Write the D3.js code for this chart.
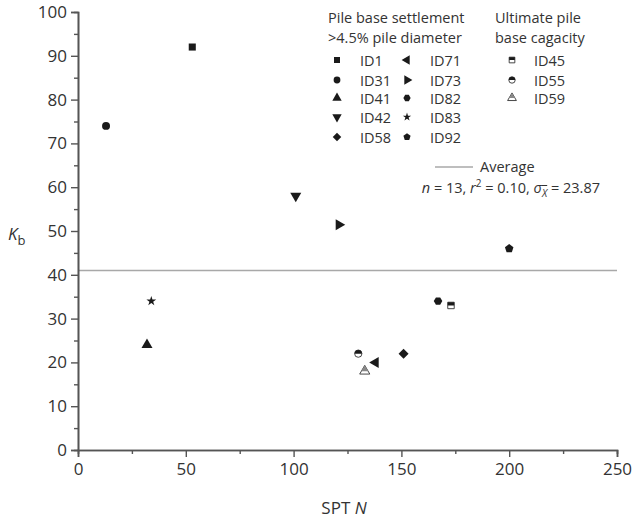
<!DOCTYPE html>
<html>
<head>
<meta charset="utf-8">
<script src="https://cdn.jsdelivr.net/npm/d3@7"></script>
<style>
  body { margin: 0; background: #fff; }
  text { font-family: "Open Sans", sans-serif; fill: #333; }
</style>
</head>
<body>
<script>
'use strict'

var w = 635;
var h = 521;

// data
var ids    = ["ID1", "ID31", "ID41", "ID42", "ID58", "ID71", "ID73", "ID82", "ID83", "ID92", "ID45", "ID55", "ID59"];
var sptN   = [53, 13, 32, 101, 151, 138, 121, 167, 34, 200, 173, 130, 133];
var kb     = [92, 74, 24, 58, 22, 20, 51.4, 34, 34, 46, 33, 22, 18];
var shapes = ["square", "circle", "up", "down", "diamond", "left", "right", "hexagon", "star", "pentagon", "square", "circle", "up"];
var half   = [false, false, false, false, false, false, false, false, false, false, true, true, true];
var average = 41;
var xTicks = [0, 50, 100, 150, 200, 250];
var yTicks = [0, 10, 20, 30, 40, 50, 60, 70, 80, 90, 100];

var margin = {left: 78, right: 18, top: 12, bottom: 71};

var x = d3.scaleLinear().domain([0, 250]).range([margin.left, w - margin.right]);
var y = d3.scaleLinear().domain([0, 100]).range([h - margin.bottom, margin.top]);

var svg = d3.select("body").append("svg")
  .attr("width", w)
  .attr("height", h);

// polygon symbol helper
function poly(n, rot) {
  return {
    draw: function(ctx, size) {
      var r = Math.sqrt(size / (n * 0.5 * Math.sin(2 * Math.PI / n)));
      for (var i = 0; i < n; i++) {
        var a = rot + i * 2 * Math.PI / n;
        var px = r * Math.sin(a), py = -r * Math.cos(a);
        if (i === 0) ctx.moveTo(px, py); else ctx.lineTo(px, py);
      }
      ctx.closePath();
    }
  };
}

var symTypes = {
  square: d3.symbolSquare,
  circle: d3.symbolCircle,
  up: d3.symbolTriangle,
  down: d3.symbolTriangle,
  left: d3.symbolTriangle,
  right: d3.symbolTriangle,
  diamond: d3.symbolSquare,
  star: d3.symbolStar,
  hexagon: poly(6, Math.PI / 6),
  pentagon: poly(5, 0)
};
var rotation = {up: 0, down: 180, left: -90, right: 90, diamond: 45};
var sizeScale = {square: 1, circle: 1, up: 1.05, down: 1.05, left: 1.05, right: 1.05,
  diamond: 1, star: 0.6, hexagon: 0.95, pentagon: 0.95};

function drawMarker(g, shape, isHalf, size) {
  var path = d3.symbol().type(symTypes[shape]).size(size * sizeScale[shape])();
  var rot = rotation[shape] ? "rotate(" + rotation[shape] + ")" : null;
  if (!isHalf) {
    g.append("path").attr("d", path).attr("transform", rot).attr("fill", "#1a1a1a");
  } else {
    var id = "clip" + Math.random().toString(36).slice(2);
    g.append("clipPath").attr("id", id)
      .append("rect").attr("x", -10).attr("y", -10).attr("width", 20).attr("height", 10);
    g.append("path").attr("d", path).attr("transform", rot)
      .attr("fill", "#fff").attr("stroke", "#333").attr("stroke-width", 0.9);
    g.append("path").attr("d", path).attr("transform", rot)
      .attr("fill", shape === "up" ? "#888" : "#1a1a1a")
      .attr("clip-path", "url(#" + id + ")");
  }
}

// average line
svg.append("line")
  .attr("x1", x(0)).attr("x2", x(250))
  .attr("y1", y(average)).attr("y2", y(average))
  .attr("stroke", "#a8a8a8").attr("stroke-width", 1.5);

// axes
svg.append("g")
  .attr("transform", "translate(0," + y(0) + ")")
  .call(d3.axisBottom(x).tickValues(xTicks).tickSize(7).tickPadding(6));
svg.append("g")
  .attr("transform", "translate(0," + y(0) + ")")
  .call(d3.axisBottom(x).tickValues([25, 75, 125, 175, 225]).tickSize(4).tickFormat(""));

svg.append("g")
  .attr("transform", "translate(" + x(0) + ",0)")
  .call(d3.axisLeft(y).tickValues(yTicks).tickSize(7).tickPadding(4));
svg.append("g")
  .attr("transform", "translate(" + x(0) + ",0)")
  .call(d3.axisLeft(y).tickValues(d3.range(5, 100, 10)).tickSize(4).tickFormat(""));

svg.selectAll(".domain").attr("stroke", "#555").attr("stroke-width", 1.6);
svg.selectAll(".tick line").attr("stroke", "#555").attr("stroke-width", 1.4);
svg.selectAll(".tick text").style("font-size", "17px").attr("fill", "#333")
  .style("font-family", "'Open Sans', sans-serif");

// axis titles
var xt = svg.append("text")
  .attr("x", 344).attr("y", 514)
  .attr("text-anchor", "middle")
  .style("font-size", "17px");
xt.append("tspan").text("SPT ");
xt.append("tspan").attr("font-style", "italic").text("N");

var yt = svg.append("text")
  .attr("x", 8).attr("y", 240)
  .style("font-size", "17px");
yt.append("tspan").attr("font-style", "italic").text("K");
yt.append("tspan").attr("dy", 5).style("font-size", "13px").text("b");

// points
ids.forEach(function(id, i) {
  var g = svg.append("g")
    .attr("transform", "translate(" + x(sptN[i]) + "," + y(kb[i]) + ")");
  drawMarker(g, shapes[i], half[i], half[i] ? 42 : 50);
});

// legend
var lg = svg.append("g").style("font-size", "14.5px");
lg.append("text").attr("x", 328).attr("y", 23).text("Pile base settlement");
lg.append("text").attr("x", 328).attr("y", 43).text(">4.5% pile diameter");
lg.append("text").attr("x", 495).attr("y", 23).text("Ultimate pile");
lg.append("text").attr("x", 495).attr("y", 43).text("base cagacity");

var rowY = [60, 80, 98, 117, 137];
var legendItems = [];
for (var i = 0; i < 10; i++) {
  legendItems.push({i: i, sx: i < 5 ? 337 : 407, tx: i < 5 ? 360 : 430, y: rowY[i % 5]});
}
for (var j = 10; j < 13; j++) {
  legendItems.push({i: j, sx: 512, tx: 534, y: rowY[j - 10]});
}
legendItems.forEach(function(it) {
  var g = lg.append("g").attr("transform", "translate(" + it.sx + "," + it.y + ")");
  drawMarker(g, shapes[it.i], half[it.i], half[it.i] ? 32 : 36);
  lg.append("text").attr("x", it.tx).attr("y", it.y + 5.5).text(ids[it.i]);
});

// average legend
lg.append("line").attr("x1", 435).attr("x2", 473).attr("y1", 167).attr("y2", 167)
  .attr("stroke", "#a8a8a8").attr("stroke-width", 1.5);
lg.append("text").attr("x", 480).attr("y", 172).text("Average");

var st = lg.append("text").attr("x", 600).attr("y", 193).attr("text-anchor", "end");
st.append("tspan").attr("font-style", "italic").text("n");
st.append("tspan").text(" = 13, ");
st.append("tspan").attr("font-style", "italic").text("r");
st.append("tspan").attr("dy", -6).style("font-size", "10px").text("2");
st.append("tspan").attr("dy", 6).text(" = 0.10, ");
st.append("tspan").attr("font-style", "italic").text("σ");
st.append("tspan").attr("font-style", "italic").attr("dy", 4).style("font-size", "10px").style("text-decoration", "overline").text("X");
st.append("tspan").attr("dy", -4).text(" = 23.87");
</script>
</body>
</html>
